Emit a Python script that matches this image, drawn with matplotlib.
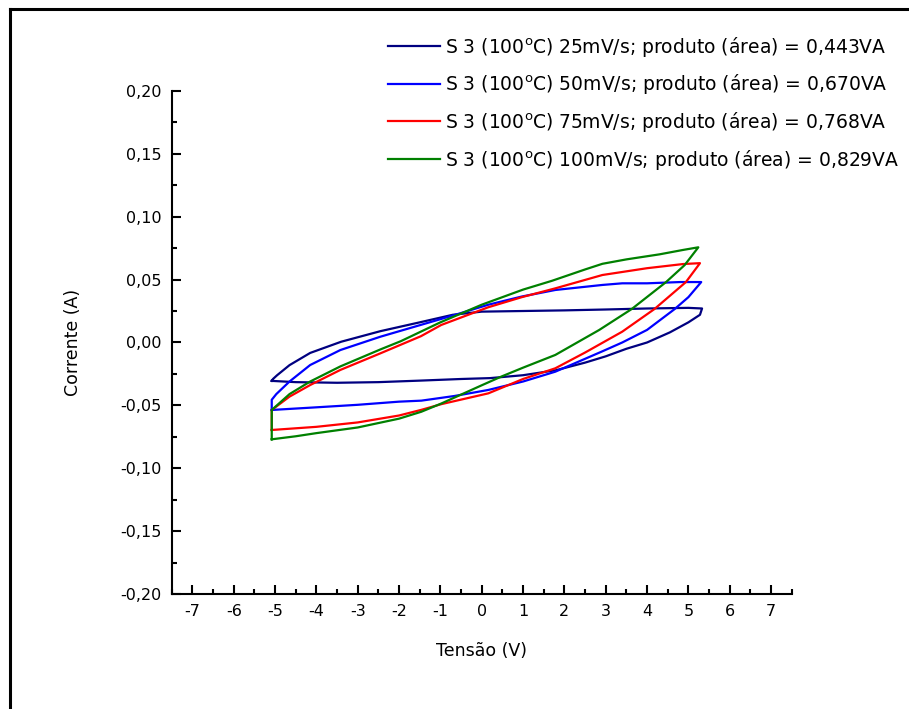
import matplotlib
matplotlib.use("Agg")
import matplotlib.pyplot as plt
from matplotlib.lines import Line2D
from matplotlib.ticker import MultipleLocator, FuncFormatter

# curves: forward (lower) branch left -> right,
# then reverse (upper) branch right -> left
v_25 = [-5.08, -4.5, -3.5, -2.5, -1.5, -0.5, 0.2, 1.0, 1.8, 2.5, 3.0, 3.5, 4.0, 4.55, 5.0, 5.28, 5.33,
        5.0, 4.0, 3.0, 2.0, 1.0, 0.0, -0.7, -1.5, -2.45, -3.4, -4.15, -4.65, -4.95, -5.05, -5.08]
i_25 = [-0.0305, -0.0315, -0.032, -0.0315, -0.0303, -0.029, -0.0283, -0.026, -0.022, -0.016, -0.011, -0.005, 0.000, 0.008, 0.016, 0.022, 0.027,
        0.0275, 0.027, 0.0262, 0.0255, 0.025, 0.0245, 0.022, 0.016, 0.009, 0.0006, -0.0083, -0.018, -0.026, -0.029, -0.0305]

v_50 = [-5.08, -4.0, -3.0, -2.0, -1.46, -0.66, 0.16, 1.0, 1.78, 2.92, 3.4, 4.0, 4.67, 5.0, 5.31,
        4.8, 4.0, 3.4, 2.92, 1.78, 0.97, 0.16, -0.74, -1.47, -2.45, -3.42, -4.15, -4.65, -4.97, -5.08, -5.08]
i_50 = [-0.0536, -0.0515, -0.0495, -0.047, -0.0462, -0.0425, -0.0377, -0.031, -0.0232, -0.007, 0.000, 0.010, 0.0266, 0.036, 0.048,
        0.048, 0.047, 0.047, 0.0457, 0.0417, 0.0365, 0.030, 0.021, 0.014, 0.0046, -0.006, -0.0179, -0.031, -0.041, -0.0455, -0.0536]

v_75 = [-5.08, -4.0, -3.0, -2.0, -1.46, -0.98, 0.16, 1.0, 1.78, 2.5, 3.4, 4.18, 4.94, 5.28,
        4.87, 4.0, 2.92, 1.78, 0.97, 0.16, -0.98, -1.47, -2.45, -3.42, -4.15, -4.65, -5.08, -5.08]
i_75 = [-0.0695, -0.067, -0.0635, -0.058, -0.0535, -0.049, -0.0404, -0.029, -0.0205, -0.008, 0.0086, 0.0266, 0.048, 0.063,
        0.0623, 0.059, 0.0536, 0.043, 0.036, 0.028, 0.0139, 0.005, -0.0086, -0.0218, -0.0338, -0.043, -0.0536, -0.0695]

v_100 = [-5.08, -4.5, -4.0, -3.0, -2.0, -1.46, -0.98, 0.0, 0.48, 1.0, 1.78, 2.84, 3.63, 4.46, 4.91, 5.24,
         4.87, 4.3, 3.5, 2.92, 2.5, 1.7, 1.0, 0.5, 0.0, -1.0, -1.96, -2.45, -3.42, -4.15, -4.65, -5.08, -5.08]
i_100 = [-0.0769, -0.0745, -0.072, -0.0675, -0.0605, -0.055, -0.0485, -0.034, -0.027, -0.020, -0.0099, 0.0099, 0.0266, 0.048, 0.0615, 0.0756,
         0.0735, 0.070, 0.066, 0.0625, 0.058, 0.049, 0.042, 0.036, 0.030, 0.016, 0.001, -0.0055, -0.019, -0.031, -0.041, -0.0536, -0.0769]

labels = [
    r"S 3 (100$^\mathrm{o}$C) 25mV/s; produto (área) = 0,443VA",
    r"S 3 (100$^\mathrm{o}$C) 50mV/s; produto (área) = 0,670VA",
    r"S 3 (100$^\mathrm{o}$C) 75mV/s; produto (área) = 0,768VA",
    r"S 3 (100$^\mathrm{o}$C) 100mV/s; produto (área) = 0,829VA",
]
colors = ["#000080", "#0000ff", "#ff0000", "#008000"]

plt.rcParams["font.family"] = ["DejaVu Sans"]

fig = plt.figure(figsize=(9.09, 7.09), dpi=100)
ax = fig.add_axes([0.1889, 0.1618, 0.6821, 0.7103])

for v, i, c, lab in zip([v_25, v_50, v_75, v_100], [i_25, i_50, i_75, i_100], colors, labels):
    ax.plot(v, i, color=c, lw=1.6, label=lab)

ax.set_xlim(-7.5, 7.5)
ax.set_ylim(-0.20, 0.20)
ax.xaxis.set_major_locator(MultipleLocator(1))
ax.xaxis.set_minor_locator(MultipleLocator(0.5))
ax.yaxis.set_major_locator(MultipleLocator(0.05))
ax.yaxis.set_minor_locator(MultipleLocator(0.025))
ax.xaxis.set_major_formatter(FuncFormatter(lambda x, p: f"{x:.0f}"))
ax.yaxis.set_major_formatter(FuncFormatter(lambda y, p: f"{y:.2f}".replace(".", ",")))

for s in ["top", "right"]:
    ax.spines[s].set_visible(False)
for s in ["left", "bottom"]:
    ax.spines[s].set_linewidth(1.5)

ax.tick_params(which="major", direction="in", length=6.5, width=1.5, labelsize=11.5, pad=7)
ax.tick_params(which="minor", direction="in", length=3.5, width=1.5)

ax.set_xlabel("Tensão (V)", fontsize=12.5)
ax.set_ylabel("Corrente (A)", fontsize=12.5)
ax.xaxis.set_label_coords(0.5, -0.095)
ax.yaxis.set_label_coords(-0.145, 0.5)

ax.legend(loc="upper left", bbox_to_anchor=(388 / 909, 1 - 35 / 709), bbox_transform=fig.transFigure,
          frameon=False, fontsize=13.5, handlelength=2.75, handletextpad=0.27,
          labelspacing=0.72, borderpad=0, borderaxespad=0)

# frame lines at the top and left edge of the picture
fig.add_artist(Line2D([10 / 909, 10 / 909], [0, 1 - 9 / 709], transform=fig.transFigure, color="black", lw=2.2))
fig.add_artist(Line2D([10 / 909, 1], [1 - 9 / 709, 1 - 9 / 709], transform=fig.transFigure, color="black", lw=2.2))

fig.savefig("out.png", dpi=100)
